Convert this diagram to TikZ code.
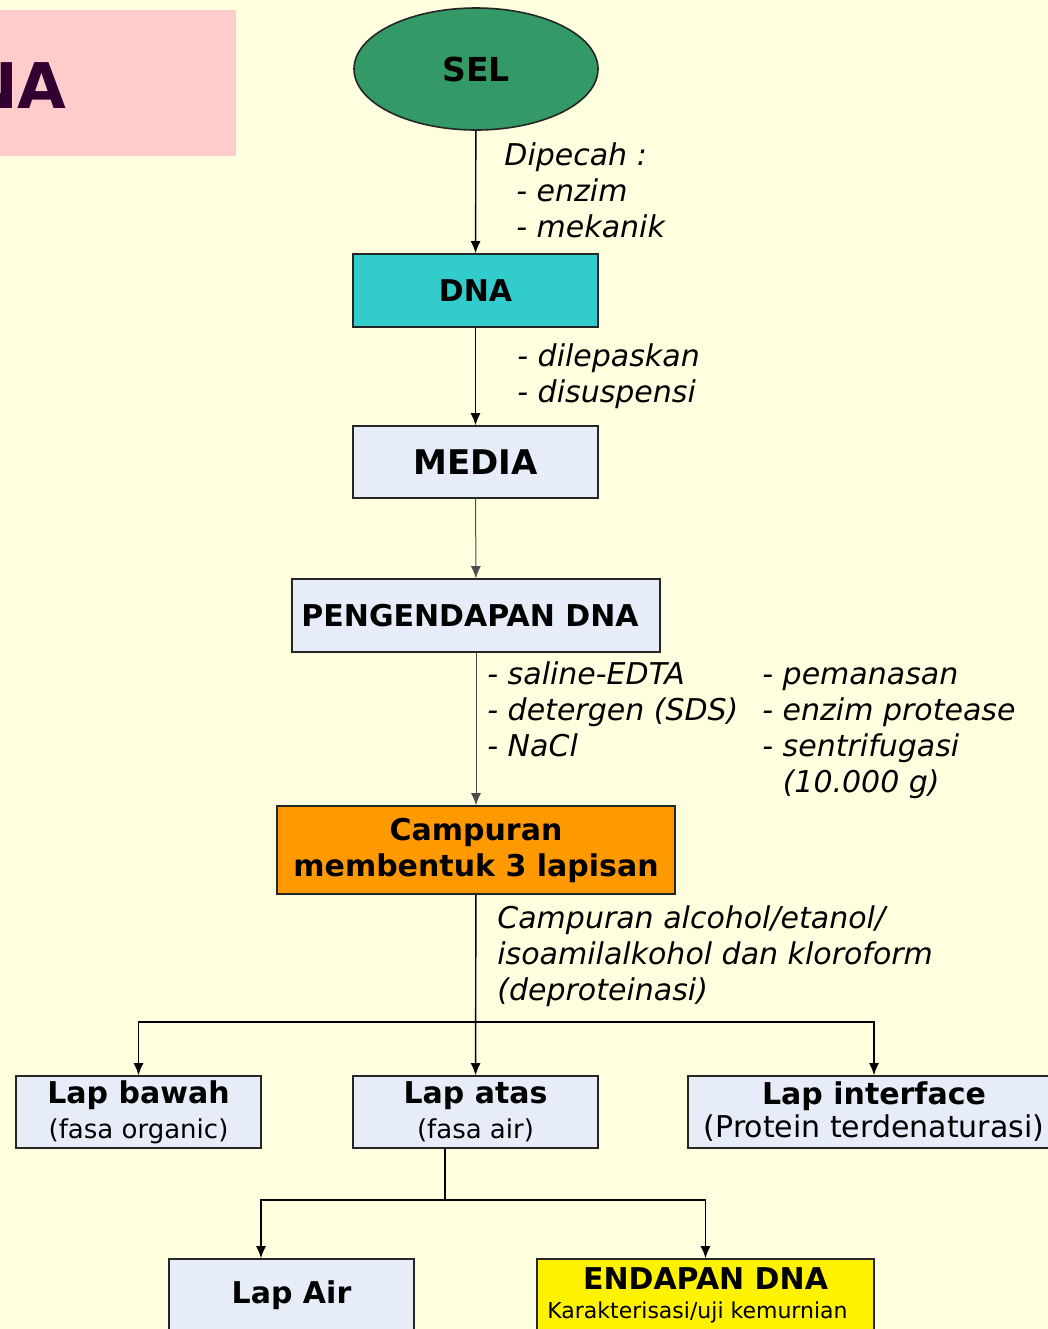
\documentclass[tikz,border=0pt]{standalone}
\usepackage{fontspec}
\setmainfont{DejaVu Sans}
\usepackage{xcolor}
\usepackage{tikz}
\usetikzlibrary{shapes.geometric,arrows.meta,positioning}

\definecolor{bgyellow}{RGB}{255,255,224}
\definecolor{titlepink}{RGB}{255,204,204}
\definecolor{titleink}{RGB}{51,0,51}
\definecolor{selgreen}{RGB}{51,153,102}
\definecolor{dnacyan}{RGB}{51,204,204}
\definecolor{boxblue}{RGB}{230,237,248}
\definecolor{camporange}{RGB}{255,153,0}

\begin{document}
\begin{tikzpicture}[x=0.5pt,y=-0.5pt,
  box/.style={draw=black!85,line width=0.8pt,inner sep=0pt,align=center,
    minimum height=36.5pt,font=\bfseries\fontsize{15pt}{16.5pt}\selectfont},
  lbl/.style={anchor=north west,inner sep=0pt,align=left,
    font=\itshape\fontsize{15pt}{18pt}\selectfont},
  arr/.style={-{Latex[length=6pt,width=5pt]},line width=0.7pt},
  thinarr/.style={arr,black!70,line width=0.5pt}]
  \useasboundingbox (0,0) rectangle (1048,1329);
  \clip (0,0) rectangle (1048,1329);
  \fill[bgyellow] (0,0) rectangle (1048,1329);
  % title block, cut at the left edge
  \fill[titlepink] (-10,10) rectangle (236,156);
  \node[anchor=east,inner sep=0pt,text=titleink,font=\bfseries\fontsize{31.5pt}{34pt}\selectfont] (title) at (67,86) {NA};

  % main column
  \node[ellipse,draw=black!85,line width=0.8pt,fill=selgreen,minimum width=122pt,minimum height=61pt,
    inner sep=0pt,font=\bfseries\fontsize{16.5pt}{18pt}\selectfont] (sel) at (476,69) {SEL};
  \node[box,fill=dnacyan,minimum width=122.5pt] (dna) at (475.5,290.5) {DNA};
  \node[box,fill=boxblue,minimum width=122.5pt,minimum height=36pt,font=\bfseries\fontsize{17pt}{18pt}\selectfont] (media) at (475.5,462) {MEDIA};
  \node[box,fill=boxblue,minimum width=184pt] (peng) at (476,615.5) {PENGENDAPAN DNA\hspace*{6pt}};
  \node[box,fill=camporange,minimum width=199pt,minimum height=44pt,font=\bfseries\fontsize{15pt}{18pt}\selectfont] (camp) at (476,850) {Campuran\\membentuk 3 lapisan};

  % three layers
  \node[box,fill=boxblue,minimum width=122.5pt,minimum height=36pt] (lapbawah) at (138.5,1112)
    {Lap bawah\\[1pt]{\mdseries\fontsize{13pt}{15pt}\selectfont(fasa organic)}};
  \node[box,fill=boxblue,minimum width=122.5pt,minimum height=36pt] (lapatas) at (475.5,1112)
    {Lap atas\\[1pt]{\mdseries\fontsize{13pt}{15pt}\selectfont(fasa air)}};
  \node[box,fill=boxblue,minimum width=186pt,minimum height=36pt] (lapinter) at (874,1112)
    {Lap interface\\{\mdseries\fontsize{15pt}{16.5pt}\selectfont(Protein terdenaturasi)}};

  % from the upper layer
  \node[box,fill=boxblue,minimum width=122.5pt,minimum height=36pt] (lapair) at (291.5,1295) {Lap Air};
  \node[box,fill=yellow,minimum width=168.5pt,minimum height=36pt] (endapan) at (705.5,1295)
    {ENDAPAN DNA\\[-2pt]{\mdseries\fontsize{11pt}{13pt}\selectfont\hspace*{-8pt}Karakterisasi/uji kemurnian}};

  % labels on the arrows
  \node[lbl] (lblsel) at (504,142) {Dipecah :\\\hspace*{6pt}- enzim\\\hspace*{6pt}- mekanik};
  \node[lbl] (lbldna) at (517,343) {- dilepaskan\\- disuspensi};
  \node[lbl] (lblpeng) at (487,661) {- saline-EDTA\\- detergen (SDS)\\- NaCl};
  \node[lbl] (lblpengb) at (762,667) {- pemanasan\\- enzim protease\\- sentrifugasi\\\hphantom{- }(10.000 g)};
  \node[lbl] (lblcamp) at (497,905) {Campuran alcohol/etanol/\\isoamilalkohol dan kloroform\\(deproteinasi)};

  % connectors
  \draw[arr] (sel) -- (dna);
  \draw[arr] (dna) -- (media);
  \draw[thinarr] (media) -- (peng);
  \draw[thinarr] (peng) -- (camp);
  \coordinate (split) at (476,1022);
  \draw[arr] (camp) -- (lapatas);
  \draw[arr] (split) -| (lapbawah.north);
  \draw[arr] (split) -| (lapinter.north);
  \coordinate (splitb) at (445,1200);
  \draw[line width=0.7pt] (lapatas.south -| splitb) -- (splitb);
  \draw[arr] (splitb) -| ([xshift=-15.25pt]lapair.north);
  \draw[arr] (splitb) -| (endapan.north);
\end{tikzpicture}
\end{document}
